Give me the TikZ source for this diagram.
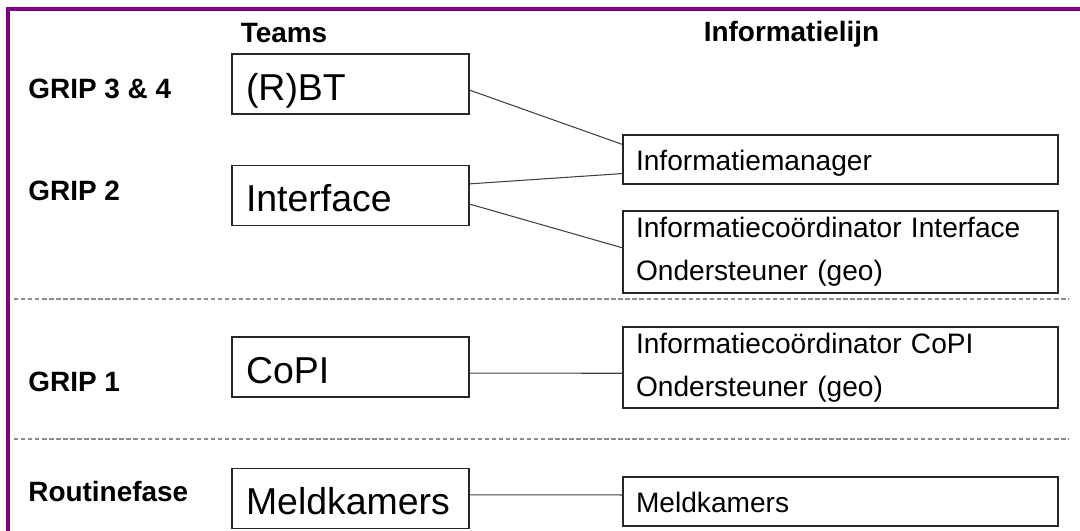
\documentclass[tikz,border=0pt]{standalone}
\usepackage{fontspec}
\setmainfont{Liberation Sans}
\usetikzlibrary{calc}

\definecolor{framepurple}{RGB}{128,0,128}

\tikzset{
  team/.style={draw=black!85, line width=0.7pt, minimum height=1.2cm,
    text width=4.18cm, text height=18.6pt, text depth=0pt,
    inner xsep=2.8mm, inner ysep=0pt, align=left,
    font=\fontsize{21.3}{25}\selectfont},
  info/.style={draw=black!85, line width=0.7pt, text width=8.18cm,
    inner xsep=2.6mm, inner ysep=0pt, align=left,
    font=\fontsize{16}{24.4}\selectfont},
  infoone/.style={info, minimum height=0.98cm, text height=12.8pt, text depth=0pt},
  phase/.style={anchor=west, inner xsep=0pt, font=\bfseries\fontsize{15.9}{18}\selectfont},
  header/.style={font=\bfseries\fontsize{15.9}{18}\selectfont},
  teamlink/.style={draw=black!75, line width=0.6pt},
  phasesep/.style={draw=black!45, dash pattern=on 2.5pt off 1.5pt, line width=0.6pt}
}

\begin{document}
\begin{tikzpicture}[x=0.02cm, y=-0.02cm]
\useasboundingbox (0,0) rectangle (1080,531);

% frame
\draw[framepurple, line width=1.8pt] (6,9) -- (1080,9);
\draw[framepurple, line width=2pt] (8,8) -- (8,531);

% column headers
\node[header] (teams) at (284,33) {Teams};
\node[header] (infolijn) at (791.5,34) {Informatielijn};

% phases
\node[phase] (grip34) at (28,89) {GRIP 3 \& 4};
\node[phase] (grip2) at (28,191) {GRIP 2};
\node[phase] (grip1) at (28,382) {GRIP 1};
\node[phase] (routine) at (28,492) {Routinefase};

\draw[phasesep] (14,299) -- (1069,299);
\draw[phasesep] (14,439) -- (1069,439);

% teams
\node[team] (rbt) at (350.5,84) {(R)BT};
\node[team] (interface) at (350.5,195.5) {Interface};
\node[team] (copi) at (350.5,367) {CoPI};
\node[team] (meld) at (350.5,498.5) {Meldkamers};

% informatielijn
\node[infoone] (imanager) at (840.5,159.5) {Informatiemanager};
\node[info, minimum height=1.64cm] (icinterface) at (840.5,252)
  {Informatiecoördinator Interface\\Ondersteuner (geo)};
\node[info, minimum height=1.62cm] (iccopi) at (840.5,367.5)
  {Informatiecoördinator CoPI\\Ondersteuner (geo)};
\node[infoone] (imeld) at (840.5,501.5) {Meldkamers};

% links
\draw[teamlink] ($(rbt.north east)!0.6!(rbt.south east)$)
  -- ($(imanager.north west)!0.2!(imanager.south west)$);
\draw[teamlink] ($(interface.north east)!0.31!(interface.south east)$)
  -- ($(imanager.north west)!0.78!(imanager.south west)$);
\draw[teamlink] ($(interface.north east)!0.64!(interface.south east)$)
  -- ($(icinterface.north west)!0.45!(icinterface.south west)$);
\draw[teamlink] ($(copi.north east)!0.6!(copi.south east)$)
  -- ($(iccopi.north west)!0.57!(iccopi.south west)$);
\draw[teamlink] ($(meld.north east)!0.44!(meld.south east)$)
  -- ($(imeld.north west)!0.37!(imeld.south west)$);
\end{tikzpicture}
\end{document}
